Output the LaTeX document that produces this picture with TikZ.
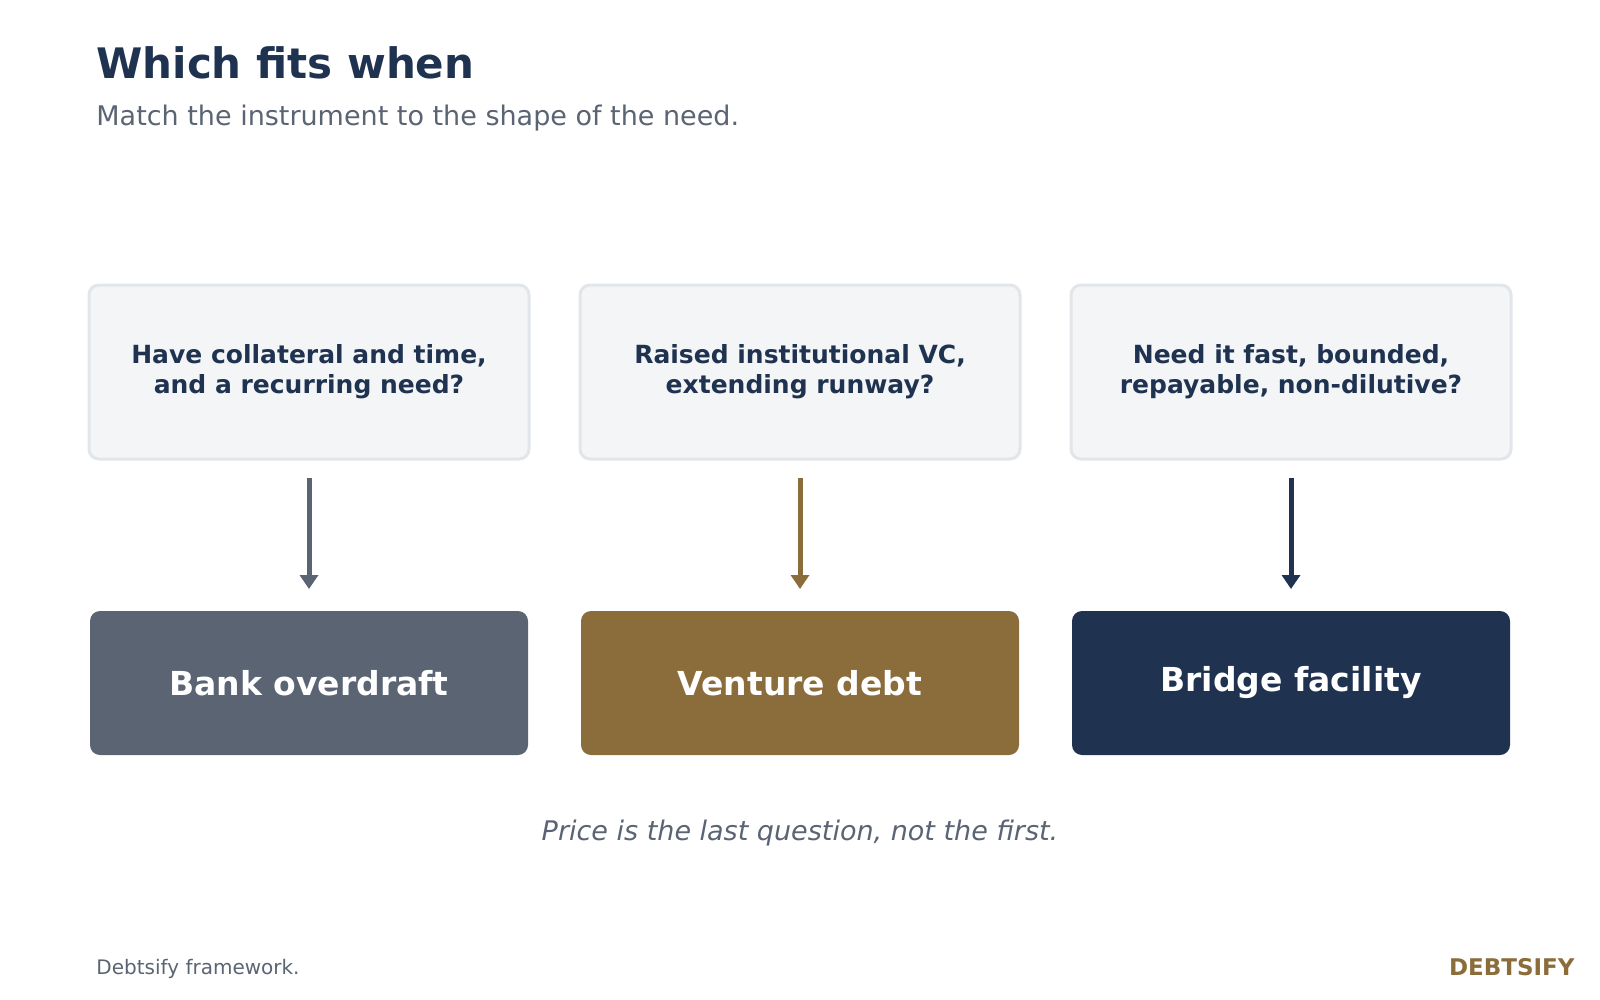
\documentclass[tikz,border=0pt]{standalone}
\usepackage{fontspec}
\setmainfont{DejaVu Sans}
\usetikzlibrary{arrows.meta}
\definecolor{navy}{HTML}{1F3351}
\definecolor{slate}{HTML}{5A6473}
\definecolor{brown}{HTML}{8B6D3B}
\definecolor{qfill}{HTML}{F3F5F7}
\definecolor{qline}{HTML}{E2E6EA}
\begin{document}
\begin{tikzpicture}[x=0.5pt,y=-0.5pt,
 q/.style={draw=qline,line width=1.5pt,fill=qfill,rounded corners=5pt,minimum width=220pt,minimum height=87pt,align=center,text=navy,font=\fontsize{12.5}{15}\selectfont\bfseries,anchor=center},
 a/.style={fill=#1,rounded corners=5pt,minimum width=219pt,minimum height=72pt,text=white,font=\fontsize{16.5}{20}\selectfont\bfseries,anchor=center},
 ar/.style={draw=#1,line width=2.5pt,-{Triangle[length=7pt,width=9pt]}}]
\useasboundingbox (0,0) rectangle (1600,1000);
\node[anchor=base west,text=navy,font=\fontsize{21}{25}\selectfont\bfseries,inner sep=0] (t) at (96,79) {Which fits when};
\node[anchor=west,text=slate,font=\fontsize{13.5}{16}\selectfont,inner sep=0] (s) at (96,118) {Match the instrument to the shape of the need.};
\foreach \n/\x/\c/\qt/\at in {1/309/slate/{Have collateral and time,\\and a recurring need?}/Bank overdraft,
 2/800/brown/{Raised institutional VC,\\extending runway?}/Venture debt,
 3/1291/navy/{Need it fast, bounded,\\repayable, non-dilutive?}/Bridge facility}{
 \node[q] (q\n) at (\x,372) {\qt};
 \node[a=\c] (a\n) at (\x,683) {\at};
 \coordinate (s\n) at (\x,478);
 \coordinate (e\n) at (\x,589);
 \draw[ar=\c] (s\n) -- (e\n);
}
\node[text=slate,font=\fontsize{13.5}{16}\selectfont\itshape] (p) at (800,833) {Price is the last question, not the first.};
\node[anchor=west,text=slate,font=\fontsize{10}{12}\selectfont,inner sep=0] (f) at (96,969) {Debtsify framework.};
\node[anchor=east,text=brown,font=\fontsize{11.5}{14}\selectfont\bfseries,inner sep=0] (b) at (1575,967) {DEBTSIFY};
\end{tikzpicture}
\end{document}
